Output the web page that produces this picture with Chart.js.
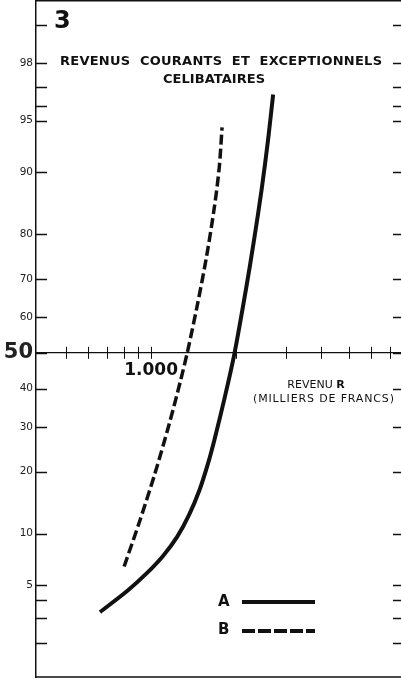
<!DOCTYPE html>
<html>
<head>
<meta charset="utf-8">
<script src="https://cdn.jsdelivr.net/npm/chart.js@4.4.1/dist/chart.umd.min.js"></script>
<style>
  html, body { margin: 0; padding: 0; background: #fff; }
  #wrap { width: 401px; height: 681px; }
</style>
</head>
<body>
<div id="wrap"><canvas id="chart"></canvas></div>
<script>
// income, thousands of francs (log axis) against cumulative %
const incomeA = [660, 823, 968, 1102, 1236, 1362, 1483, 1584, 1674, 1823, 1973, 2163, 2312, 2458, 2591, 2700];
const pctA = [3.31, 4.57, 5.94, 7.5, 9.6, 12.53, 16.56, 21.36, 26.86, 37.75, 50, 67.25, 78.85, 87.62, 93.46, 96.64];
const incomeB = [803, 907, 1033, 1162, 1273, 1342, 1453, 1570, 1675, 1742, 1782];
const pctB = [6.5, 11.4, 19.7, 31, 42.4, 50, 62.8, 75.2, 85, 90.6, 94.5];

const xTicks = [500, 600, 700, 800, 900, 1000, 2000, 3000, 4000, 5000, 6000, 7000];
const xLabels = { 1000: '1.000' };
const yTicks = [2, 3, 4, 5, 10, 20, 30, 40, 50, 60, 70, 80, 90, 95, 96, 97, 98, 99];
const yLabels = [5, 10, 20, 30, 40, 50, 60, 70, 80, 90, 95, 98];

const INK = '#111';
const FONT = '"DejaVu Sans", sans-serif';

// inverse normal cdf (Acklam)
function probit(p) {
  const a = [-39.69683028665376, 220.9460984245205, -275.9285104469687, 138.357751867269, -30.66479806614716, 2.506628277459239];
  const b = [-54.47609879822406, 161.5858368580409, -155.6989798598866, 66.80131188771972, -13.28068155288572];
  const c = [-0.007784894002430293, -0.3223964580411365, -2.400758277161838, -2.549732539343734, 4.374664141464968, 2.938163982698783];
  const d = [0.007784695709041462, 0.3224671290700398, 2.445134137142996, 3.754408661907416];
  const lo = 0.02425;
  let q, r;
  if (p < lo) {
    q = Math.sqrt(-2 * Math.log(p));
    return (((((c[0]*q+c[1])*q+c[2])*q+c[3])*q+c[4])*q+c[5]) / ((((d[0]*q+d[1])*q+d[2])*q+d[3])*q+1);
  }
  if (p > 1 - lo) {
    q = Math.sqrt(-2 * Math.log(1 - p));
    return -(((((c[0]*q+c[1])*q+c[2])*q+c[3])*q+c[4])*q+c[5]) / ((((d[0]*q+d[1])*q+d[2])*q+d[3])*q+1);
  }
  q = p - 0.5; r = q * q;
  return (((((a[0]*r+a[1])*r+a[2])*r+a[3])*r+a[4])*r+a[5])*q / (((((b[0]*r+b[1])*r+b[2])*r+b[3])*r+b[4])*r+1);
}

function normCdf(z) {
  const t = 1 / (1 + 0.2316419 * Math.abs(z));
  const y = 0.3989423 * Math.exp(-z * z / 2) * t * (0.3193815 + t * (-0.3565638 + t * (1.781478 + t * (-1.821256 + t * 1.330274))));
  return z > 0 ? 1 - y : y;
}

// probability-paper axis (values in %)
class ProbitScale extends Chart.Scale {
  determineDataLimits() {
    this.min = this.options.min;
    this.max = this.options.max;
  }
  buildTicks() {
    return yTicks.map(v => ({ value: v }));
  }
  configure() {
    super.configure();
    this._zMin = probit(this.min / 100);
    this._zMax = probit(this.max / 100);
  }
  getLabelForValue(v) { return String(v); }
  getPixelForValue(v) {
    if (v === null || isNaN(v)) return NaN;
    return this.getPixelForDecimal((probit(v / 100) - this._zMin) / (this._zMax - this._zMin));
  }
  getValueForPixel(px) {
    const d = this.getDecimalForPixel(px);
    return 100 * normCdf(this._zMin + d * (this._zMax - this._zMin));
  }
}
ProbitScale.id = 'probit';
ProbitScale.defaults = {};
Chart.register(ProbitScale);

function fitText(ctx, text, x, y, width) {
  ctx.letterSpacing = '0px';
  const w = ctx.measureText(text).width;
  ctx.letterSpacing = ((width - w) / (text.length - 1)) + 'px';
  ctx.textAlign = 'left';
  ctx.fillText(text, x, y);
  ctx.letterSpacing = '0px';
}

const decor = {
  id: 'decor',
  afterDraw(chart) {
    const { ctx, chartArea: a, scales: { x, y } } = chart;
    ctx.save();
    ctx.strokeStyle = INK;
    ctx.fillStyle = INK;

    // frame top and bottom
    ctx.lineWidth = 1.5;
    ctx.beginPath();
    ctx.moveTo(a.left, a.top + 0.75); ctx.lineTo(chart.width, a.top + 0.75);
    ctx.moveTo(a.left, a.bottom); ctx.lineTo(chart.width, a.bottom);
    ctx.stroke();

    // inner ticks on both sides
    yTicks.forEach(v => {
      const py = Math.round(y.getPixelForValue(v)) + 0.5;
      ctx.beginPath();
      ctx.moveTo(a.left, py); ctx.lineTo(a.left + 11, py);
      ctx.moveTo(a.right - 8, py); ctx.lineTo(a.right, py);
      ctx.stroke();
    });

    // crossing ticks on the 50 % line
    const y50 = y.getPixelForValue(50);
    ctx.lineWidth = 1;
    xTicks.forEach(v => {
      const px = Math.round(x.getPixelForValue(v)) + 0.5;
      ctx.beginPath();
      ctx.moveTo(px, y50 - 6); ctx.lineTo(px, y50 + 6);
      ctx.stroke();
    });

    ctx.textBaseline = 'alphabetic';
    ctx.font = 'bold 24px ' + FONT;
    ctx.fillText('3', 54, 28);

    ctx.font = 'bold 13px ' + FONT;
    fitText(ctx, 'REVENUS  COURANTS  ET  EXCEPTIONNELS', 60, 65, 322);
    fitText(ctx, 'CELIBATAIRES', 163, 83, 102);

    // axis caption
    ctx.font = '11px ' + FONT;
    const w1 = ctx.measureText('REVENU ').width;
    ctx.font = 'bold 11px ' + FONT;
    const w2 = ctx.measureText('R').width;
    const cx = 316 - (w1 + w2) / 2;
    ctx.font = '11px ' + FONT;
    ctx.fillText('REVENU ', cx, 388);
    ctx.font = 'bold 11px ' + FONT;
    ctx.fillText('R', cx + w1, 388);
    ctx.font = '11px ' + FONT;
    fitText(ctx, '(MILLIERS DE FRANCS)', 253, 402, 141);

    // legend
    ctx.font = 'bold 15px ' + FONT;
    ctx.fillText('A', 218, 606);
    ctx.fillText('B', 218, 634);
    ctx.lineWidth = 4;
    ctx.beginPath();
    ctx.moveTo(242, 602); ctx.lineTo(315, 602);
    ctx.stroke();
    ctx.setLineDash([13, 3]);
    ctx.beginPath();
    ctx.moveTo(242, 631); ctx.lineTo(315, 631);
    ctx.stroke();
    ctx.restore();
  }
};

new Chart(document.getElementById('chart'), {
  type: 'line',
  data: {
    datasets: [
      {
        label: 'A',
        data: incomeA.map((v, i) => ({ x: v, y: pctA[i] })),
        borderColor: INK,
        borderWidth: 4,
        tension: 0.3,
        pointRadius: 0
      },
      {
        label: 'B',
        data: incomeB.map((v, i) => ({ x: v, y: pctB[i] })),
        borderColor: INK,
        borderWidth: 3.5,
        borderDash: [10, 4],
        tension: 0.3,
        pointRadius: 0
      }
    ]
  },
  options: {
    responsive: true,
    maintainAspectRatio: false,
    animation: false,
    layout: { padding: { top: 0, left: 0, right: 0, bottom: 4 } },
    plugins: { legend: { display: false }, tooltip: { enabled: false }, title: { display: false } },
    scales: {
      x: {
        type: 'logarithmic',
        min: 392,
        max: 7643,
        position: { y: 50 },
        afterBuildTicks: s => { s.ticks = xTicks.map(v => ({ value: v })); },
        afterFit: s => { s.height = 0; s.paddingLeft = 0; s.paddingRight = 0; },
        grid: { display: false, drawTicks: false },
        border: { display: true, color: INK, width: 1.2 },
        ticks: {
          autoSkip: false,
          maxRotation: 0,
          padding: 8,
          color: INK,
          font: { family: FONT, size: 17, weight: 'bold' },
          callback: v => xLabels[v] || null
        }
      },
      y: {
        type: 'probit',
        min: 1.08,
        max: 99.38,
        position: 'left',
        afterFit: s => { s.width = 36; s.paddingTop = 0; s.paddingBottom = 0; },
        grid: { display: false, drawTicks: false },
        border: { display: true, color: INK, width: 1.5 },
        ticks: {
          autoSkip: false,
          padding: 3,
          color: '#222',
          font: ctx => (ctx.tick && ctx.tick.value === 50)
            ? { family: FONT, size: 21, weight: 'bold' }
            : { family: FONT, size: 10.5 },
          callback: v => yLabels.includes(v) ? String(v) : null
        }
      }
    }
  },
  plugins: [decor]
});
</script>
</body>
</html>
